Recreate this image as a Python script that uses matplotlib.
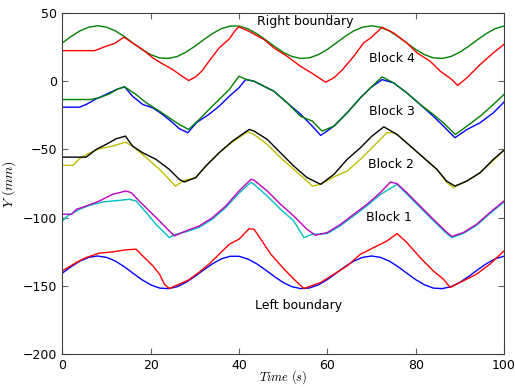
import matplotlib
matplotlib.use('Agg')
import matplotlib.pyplot as plt

plt.rcParams['mathtext.fontset'] = 'cm'
plt.rcParams['font.size'] = 9

# boundaries (sampled every 2 s)
t_bound = list(range(0, 101, 2))
right_bound = [28.0, 32.8, 36.9, 39.6, 40.6, 39.6, 36.9, 32.8, 28.0, 23.3, 19.5, 17.1, 16.7,
               18.1, 21.3, 25.6, 30.4, 34.9, 38.5, 40.4, 40.4, 38.4, 34.9, 30.4, 25.6, 21.2,
               18.1, 16.7, 17.2, 19.5, 23.3, 28.0, 32.8, 36.9, 39.6, 40.6, 39.6, 36.9, 32.8,
               28.0, 23.3, 19.5, 17.1, 16.7, 18.1, 21.3, 25.6, 30.4, 34.9, 38.5, 40.4]
left_bound = [-140.6, -135.8, -131.7, -129.0, -128.0, -129.0, -131.7, -135.8, -140.6, -145.3,
              -149.1, -151.5, -151.9, -150.5, -147.3, -143.0, -138.2, -133.7, -130.1, -128.2,
              -128.2, -130.2, -133.7, -138.2, -143.0, -147.4, -150.5, -151.9, -151.4, -149.1,
              -145.3, -140.6, -135.8, -131.7, -129.0, -128.0, -129.0, -131.7, -135.8, -140.6,
              -145.3, -149.1, -151.5, -151.9, -150.5, -147.3, -143.0, -138.2, -133.7, -130.1,
              -128.2]

# block 4
b4_t = [0, 7.3, 8.4, 9.9, 11.8, 13.7, 14.0, 15.9, 18.2, 20.5, 22.7, 25.0, 26.9, 28.6, 30.2,
        31.7, 33.2, 35.5, 37.8, 39.3, 40.0, 42.3, 45.7, 47.9, 50.9, 53.9, 57.0, 59.6, 61.5,
        63.3, 66.0, 68.2, 69.8, 72.4, 75.0, 78.0, 80.3, 83.3, 85.6, 88.2, 89.5, 91.6, 94.6,
        97.6, 100]
b4_y = [22.4, 22.4, 23.7, 25.6, 27.6, 31.7, 32.2, 28.0, 23.2, 17.1, 12.7, 8.5, 4.2, 0.5, 3.2,
        7.8, 14.6, 24.4, 31.0, 37.8, 39.8, 36.5, 30.5, 24.4, 18.3, 11.0, 4.9, -0.7, 2.5,
        8.0, 18.3, 28.0, 31.7, 39.5, 35.4, 28.0, 20.8, 14.6, 7.3, 1.2, -3.1, 2.5, 12.2,
        20.8, 27.0]

# block 3
b3a_t = [0, 3.9, 5.4, 7.7, 9.9, 12.2, 14.1, 15.9, 18.2, 20.5, 22.7, 25.0, 26.5, 28.4, 30.5,
         33.2, 35.5, 37.8, 40.0, 41.5, 43.4, 47.9, 50.9, 53.9, 56.6, 58.5, 61.5, 64.5, 67.5,
         69.8, 72.4, 75.0, 78.0, 81.0, 84.0, 86.3, 88.9, 91.6, 94.6, 97.6, 100]
b3a_y = [-19.0, -19.0, -17.0, -12.9, -9.7, -6.1, -4.1, -11.0, -17.0, -19.5, -24.3, -30.4,
         -34.8, -37.7, -30.0, -24.3, -18.3, -11.0, -4.8, 1.2, 0.0, -7.3, -15.8, -24.0, -32.9,
         -39.7, -32.9, -23.1, -12.1, -4.8, 1.2, -1.2, -8.5, -17.0, -25.6, -32.9, -41.4,
         -35.4, -30.4, -23.1, -15.3]
b3b_t = [0, 6.2, 8.4, 10.7, 12.6, 14.1, 16.7, 19.0, 22.0, 24.2, 26.5, 28.6, 31.0, 33.2, 35.5,
         37.8, 40.0, 41.5, 43.4, 47.9, 50.9, 53.9, 56.6, 58.8, 61.5, 64.5, 67.5, 69.8, 72.4,
         75.0, 78.0, 81.0, 84.0, 86.3, 89.0, 91.6, 94.6, 97.6, 100]
b3b_y = [-13.4, -13.4, -12.1, -9.2, -5.6, -4.1, -9.7, -15.8, -21.9, -26.8, -31.7, -35.3,
         -28.0, -20.7, -13.4, -6.1, 3.7, 1.5, 0.0, -7.3, -15.8, -25.6, -29.2, -36.5, -32.9,
         -23.1, -12.1, -4.8, 3.2, -1.2, -8.5, -17.0, -24.3, -30.5, -39.0, -32.9, -25.6,
         -17.0, -9.7]

# block 2
b2a_t = [0, 5.4, 7.7, 9.9, 12.2, 14.3, 15.9, 18.2, 21.2, 24.2, 26.5, 27.6, 30.2, 32.5, 35.5,
         38.5, 42.3, 43.4, 46.4, 49.4, 52.4, 55.4, 58.5, 61.5, 64.5, 67.5, 70.1, 72.8, 75.8,
         78.8, 81.8, 84.8, 87.0, 88.9, 91.6, 94.6, 97.6, 100]
b2a_y = [-55.6, -55.6, -49.9, -46.3, -42.1, -40.2, -47.5, -52.4, -57.2, -64.5, -71.9, -73.8,
         -70.6, -62.1, -52.4, -43.9, -35.3, -36.5, -42.6, -52.4, -62.1, -70.6, -75.5, -68.2,
         -57.2, -48.7, -40.2, -33.4, -39.0, -47.5, -56.0, -64.5, -73.1, -76.8, -73.1, -67.0,
         -57.2, -50.5]
b2b_t = [0, 2.4, 3.9, 6.2, 8.4, 11.4, 14.3, 15.9, 19.0, 22.0, 24.2, 25.6, 27.6, 30.2, 32.5,
         35.5, 38.5, 42.0, 43.4, 46.4, 49.4, 52.4, 55.4, 56.6, 58.5, 61.5, 64.5, 67.5, 70.5,
         73.5, 75.0, 75.8, 78.8, 81.8, 84.8, 87.0, 88.5, 91.6, 94.6, 97.6, 100]
b2b_y = [-61.6, -61.6, -56.7, -52.4, -49.4, -47.5, -44.6, -47.5, -56.0, -64.5, -71.9, -76.8,
         -72.6, -70.6, -62.1, -52.4, -44.5, -37.0, -39.0, -46.3, -56.0, -64.5, -73.1, -76.8,
         -75.5, -70.0, -65.8, -57.2, -47.5, -37.7, -37.7, -39.0, -47.5, -56.0, -64.5, -74.0,
         -77.9, -73.1, -67.0, -58.0, -50.5]

# block 1
b1a_t = [0, 2.1, 3.2, 5.4, 8.4, 11.4, 14.4, 15.6, 17.4, 19.7, 22.0, 24.2, 25.4, 28.0, 31.0,
         34.0, 37.0, 40.0, 42.7, 43.4, 46.4, 49.4, 52.4, 55.4, 57.3, 60.0, 63.0, 66.0, 69.0,
         72.0, 74.3, 75.8, 78.0, 81.0, 84.0, 86.7, 88.2, 90.8, 93.8, 96.8, 100]
b1a_y = [-97.4, -97.4, -93.8, -91.4, -87.7, -82.8, -80.4, -81.6, -87.7, -95.0, -102.3, -109.6,
         -113.3, -109.6, -106.0, -99.9, -91.4, -80.4, -71.9, -72.4, -80.4, -90.1, -98.7,
         -108.4, -112.8, -110.8, -104.8, -97.4, -90.1, -81.6, -73.8, -75.0, -81.6, -91.4,
         -101.1, -109.6, -113.7, -110.8, -104.8, -96.2, -87.7]
b1b_t = [0, 1.2, 3.9, 6.2, 9.2, 11.4, 15.2, 16.7, 19.0, 21.2, 23.5, 24.2, 25.7, 28.0, 31.0,
         34.0, 37.0, 40.0, 42.7, 43.4, 46.4, 49.4, 52.4, 54.7, 56.6, 58.5, 60.0, 63.0, 66.0,
         69.0, 72.0, 75.8, 78.0, 81.0, 84.0, 86.7, 88.2, 90.8, 93.8, 96.8, 100]
b1b_y = [-102.3, -98.7, -93.8, -90.9, -88.4, -87.7, -86.5, -87.7, -96.2, -104.8, -112.1,
         -114.5, -112.1, -110.3, -107.0, -101.0, -92.5, -82.0, -74.0, -75.5, -84.1, -93.8,
         -102.3, -114.5, -112.0, -112.0, -111.5, -105.8, -98.5, -91.2, -83.0, -75.5, -82.6,
         -92.4, -102.1, -110.6, -114.5, -111.5, -105.5, -97.0, -88.5]

# block next to left boundary
b0_t = [0, 3.2, 5.4, 8.4, 11.4, 14.4, 16.7, 18.2, 20.5, 22.0, 23.1, 24.2, 26.5, 28.6, 30.9,
        33.2, 35.5, 37.8, 40.0, 42.3, 43.4, 45.0, 47.2, 50.2, 53.2, 54.7, 58.5, 61.5, 64.5,
        67.5, 70.5, 73.5, 75.8, 78.0, 81.0, 84.0, 86.3, 87.8, 90.8, 93.8, 96.8, 100]
b0_y = [-138.9, -132.7, -129.1, -125.9, -125.0, -123.5, -123.0, -127.9, -135.2, -141.3,
        -148.6, -151.8, -148.6, -145.5, -140.1, -134.0, -126.7, -119.4, -115.7, -108.0,
        -108.4, -116.0, -126.7, -137.6, -147.4, -151.8, -147.4, -141.3, -135.2, -126.7,
        -121.8, -117.0, -111.6, -118.1, -129.1, -138.9, -145.0, -151.0, -146.2, -141.3,
        -134.0, -124.3]

fig = plt.figure(figsize=(5.15, 3.87), dpi=100, facecolor='white')
ax = fig.add_axes([0.121, 0.0845, 0.8576, 0.882])

lw = 1.0
ax.plot(t_bound, right_bound, color=(0, 0.5, 0), lw=lw)
ax.plot(b4_t, b4_y, color='red', lw=lw)
ax.plot(b3a_t, b3a_y, color='blue', lw=lw)
ax.plot(b3b_t, b3b_y, color=(0, 0.5, 0), lw=lw)
ax.plot(b2b_t, b2b_y, color=(0.75, 0.75, 0), lw=lw)
ax.plot(b2a_t, b2a_y, color='black', lw=lw)
ax.plot(b1b_t, b1b_y, color=(0, 0.75, 0.75), lw=lw)
ax.plot(b1a_t, b1a_y, color=(0.75, 0, 0.75), lw=lw)
ax.plot(t_bound, left_bound, color='blue', lw=lw)
ax.plot(b0_t, b0_y, color='red', lw=lw)

ax.text(55, 43.6, 'Right boundary', ha='center', va='center')
ax.text(74.6, 16.6, 'Block 4', ha='center', va='center')
ax.text(74.6, -22.1, 'Block 3', ha='center', va='center')
ax.text(74.4, -60.9, 'Block 2', ha='center', va='center')
ax.text(74.0, -99.6, 'Block 1', ha='center', va='center')
ax.text(53.5, -164, 'Left boundary', ha='center', va='center')

ax.set_xlim(0, 100)
ax.set_ylim(-200, 50)
ax.set_xticks([0, 20, 40, 60, 80, 100])
ax.set_yticks([50, 0, -50, -100, -150, -200])
ax.tick_params(direction='in', top=True, right=True, length=4, color='0.4', labelsize=9)
for s in ax.spines.values():
    s.set_color('0.25')

ax.set_xlabel(r'$Time\ (s)$', fontsize=9)
ax.xaxis.set_label_coords(0.5, -0.042)
ax.set_ylabel(r'$Y\ (mm)$', fontsize=10)
ax.yaxis.set_label_coords(-0.1, 0.5)

plt.savefig('out.png', dpi=100)
